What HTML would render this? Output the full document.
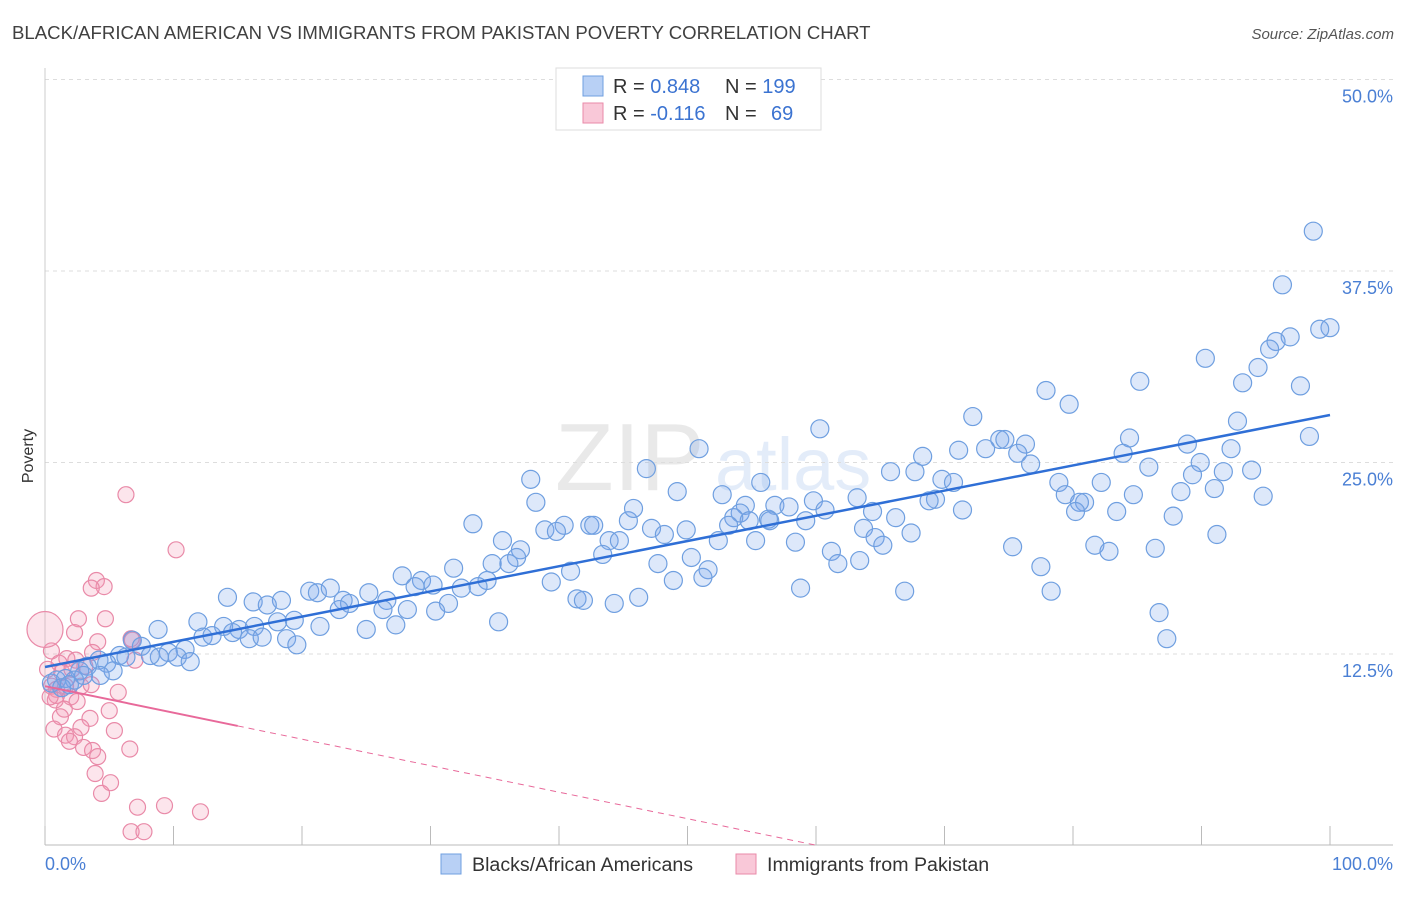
<!DOCTYPE html>
<html><head><meta charset="utf-8"><style>
body{margin:0;background:#fff;font-family:"Liberation Sans",sans-serif;}
svg text{font-family:"Liberation Sans",sans-serif;}
</style></head><body>
<svg id="chart" width="1406" height="892" xmlns="http://www.w3.org/2000/svg">
<text x="12" y="39" font-size="18.6" fill="#404040">BLACK/AFRICAN AMERICAN VS IMMIGRANTS FROM PAKISTAN POVERTY CORRELATION CHART</text>
<text x="1394" y="39" font-size="15" fill="#555" text-anchor="end" font-style="italic">Source: ZipAtlas.com</text>
<text transform="translate(33,456) rotate(-90)" font-size="16" fill="#333" text-anchor="middle">Poverty</text>
<g opacity="0.18">
<text x="555" y="490" font-size="96" font-family="Liberation Serif" fill="#888">ZIP</text>
<text x="715" y="490" font-size="74" fill="#6a9be0">atlas</text>
</g>
<g id="grid"></g><g id="axes"></g><g id="pinkPts"></g><g id="bluePts"></g><g id="trends"></g>
<g>
<rect x="556" y="68" width="265" height="62" fill="#fff" stroke="#ddd"/>
<rect x="583" y="76" width="20" height="20" fill="#b8d0f5" stroke="#6f9fe0"/>
<rect x="583" y="103" width="20" height="20" fill="#f9c8d8" stroke="#e98aa8"/>
<text x="613" y="93" font-size="20" fill="#333">R = <tspan fill="#3b73d1">0.848</tspan><tspan x="725">N = </tspan><tspan fill="#3b73d1">199</tspan></text>
<text x="613" y="120" font-size="20" fill="#333">R = <tspan fill="#3b73d1">-0.116</tspan><tspan x="725">N = </tspan><tspan x="771" fill="#3b73d1">69</tspan></text>
</g>
<g>
<rect x="441" y="854" width="20" height="20" fill="#b8d0f5" stroke="#6f9fe0"/>
<text x="472" y="871" font-size="19.6" fill="#333">Blacks/African Americans</text>
<rect x="736" y="854" width="20" height="20" fill="#f9c8d8" stroke="#e98aa8"/>
<text x="767" y="871" font-size="19.6" fill="#333">Immigrants from Pakistan</text>
</g>
</svg>
<script>
const yTicks=[12.5,25,37.5,50];
const yTickLabels=["12.5%","25.0%","37.5%","50.0%"];
const xTicks=[0,10,20,30,40,50,60,70,80,90,100];
const blueX=[98.7,96.3,100,99.2,96.9,95.8,95.3,90.3,94.4,85.2,93.2,97.7,77.9,79.7,72.2,92.8,60.3,84.4,98.4,74.3,74.7,76.3,88.9,50.9,71.1,75.7,68.3,92.3,83.9,73.2,89.9,76.7,46.8,85.9,65.8,67.7,93.9,89.3,91.7,69.8,37.8,55.7,70.7,49.2,78.9,82.2,88.4,79.4,91.0,84.7,63.2,52.7,69.3,68.8,54.5,56.8,57.9,59.8,94.8,80.9,80.5,83.4,71.4,80.2,38.2,60.7,64.4,45.4,45.8,33.3,40.4,42.4,42.7,54.1,53.6,56.3,54.8,56.4,59.2,66.2,53.2,63.7,67.4,47.2,49.9,38.9,39.8,48.2,87.8,35.6,43.9,44.7,55.3,52.4,64.6,58.4,65.2,91.2,81.7,75.3,82.8,86.4,37.0,36.7,43.4,61.2,50.3,63.4,61.7,34.8,36.1,47.7,40.9,51.6,31.8,77.5,27.8,51.2,48.9,29.3,34.4,39.4,30.2,28.8,32.4,20.6,33.7,21.2,22.2,58.8,66.9,25.2,78.3,14.2,16.2,18.4,46.2,23.2,23.7,41.4,31.4,26.6,44.3,41.9,17.3,26.3,28.2,30.4,22.9,11.9,18.1,16.3,21.4,15.1,19.4,35.3,27.3,25.0,86.7,13.9,8.8,12.3,14.6,13.0,15.9,16.9,18.8,19.6,87.3,6.8,7.5,5.8,9.6,10.9,10.3,8.9,8.2,11.3,4.2,6.3,4.8,3.3,5.3,2.7,4.3,0.9,1.6,2.3,0.5,1.3,3.0,1.9];
const blueY=[40.1,36.6,33.8,33.7,33.2,32.9,32.4,31.8,31.2,30.3,30.2,30.0,29.7,28.8,28.0,27.7,27.2,26.6,26.7,26.5,26.5,26.2,26.2,25.9,25.8,25.6,25.4,25.9,25.6,25.9,25.0,24.9,24.6,24.7,24.4,24.4,24.5,24.2,24.4,23.9,23.9,23.7,23.7,23.1,23.7,23.7,23.1,22.9,23.3,22.9,22.7,22.9,22.6,22.5,22.2,22.2,22.1,22.5,22.8,22.4,22.4,21.8,21.9,21.8,22.4,21.9,21.8,21.2,22.0,21.0,20.9,20.9,20.9,21.7,21.4,21.3,21.2,21.2,21.2,21.4,20.9,20.7,20.4,20.7,20.6,20.6,20.5,20.3,21.5,19.9,19.9,19.9,19.9,19.9,20.1,19.8,19.6,20.3,19.6,19.5,19.2,19.4,19.3,18.8,19.0,19.2,18.8,18.6,18.4,18.4,18.4,18.4,17.9,18.0,18.1,18.2,17.6,17.5,17.3,17.3,17.3,17.2,17.0,16.9,16.8,16.6,16.9,16.5,16.8,16.8,16.6,16.5,16.6,16.2,15.9,16.0,16.2,16.0,15.8,16.1,15.8,16.0,15.8,16.0,15.7,15.4,15.4,15.3,15.4,14.6,14.6,14.3,14.3,14.1,14.7,14.6,14.4,14.1,15.2,14.3,14.1,13.6,13.9,13.7,13.5,13.6,13.5,13.1,13.5,13.4,13.0,12.4,12.6,12.8,12.3,12.3,12.4,12.0,12.1,12.3,11.9,11.7,11.4,11.4,11.1,10.8,10.9,10.8,10.6,10.3,11.1,10.5];
const pinkX=[6.3,10.2,4.0,4.6,3.6,2.6,4.7,2.3,4.1,6.7,6.8,0.5,1.7,3.7,2.4,1.1,3.1,7.0,0.2,1.3,2.1,0.5,0.9,1.6,2.8,3.6,0.9,5.7,2.0,2.5,1.5,5.0,1.2,3.5,2.8,0.7,1.6,2.3,1.9,5.4,3.0,3.7,6.6,4.1,3.9,5.1,4.4,7.2,9.3,12.1,6.7,7.7,0.8,0.4,0];
const pinkY=[22.9,19.3,17.3,16.9,16.8,14.8,14.8,13.9,13.3,13.5,13.4,12.7,12.2,12.6,12.1,11.9,11.7,12.1,11.5,11.3,11.5,10.4,10.2,10.4,10.4,10.5,9.8,10.0,9.7,9.4,8.9,8.8,8.4,8.3,7.7,7.6,7.2,7.1,6.8,7.5,6.4,6.2,6.3,5.8,4.7,4.1,3.4,2.5,2.6,2.2,0.9,0.9,9.5,9.7,14.1];
const blueTrend=[11.65,28.1];
const pinkTrend=[10.4,-6.9];
const X0=45,X1=1330,Y0=845.5,YS=15.32;
const sx=v=>X0+(X1-X0)*v/100, sy=v=>Y0-v*YS;
const NS="http://www.w3.org/2000/svg";
function mk(tag,parent,attrs){const e=document.createElementNS(NS,tag);for(const k in attrs)e.setAttribute(k,attrs[k]);parent.appendChild(e);return e;}
const grid=document.getElementById('grid'),axes=document.getElementById('axes');
yTicks.forEach((t,i)=>{
 const l=mk('line',grid,{x1:45,x2:1393,y1:sy(t),y2:sy(t),stroke:'#ddd','stroke-dasharray':'4,4'});
 
 
 const tx=mk('text',axes,{x:1393,y:sy(t)+23,'font-size':18,fill:'#4a7fd4','text-anchor':'end'});
 tx.textContent=yTickLabels[i];
 
 
});
const ax=mk('line',axes,{x1:45,x2:1393,y1:845,y2:845,stroke:'#bbb'});


const ay=mk('line',axes,{x1:45,x2:45,y1:68,y2:845,stroke:'#ccc'});


xTicks.forEach(t=>{
 const l=mk('line',axes,{x1:sx(t),x2:sx(t),y1:845,y2:826,stroke:'#bbb'});
 
 
});
const xl0=mk('text',axes,{x:45,y:870,'font-size':18,fill:'#4a7fd4'});xl0.textContent='0.0%';


const xl1=mk('text',axes,{x:1393,y:870,'font-size':18,fill:'#4a7fd4','text-anchor':'end'});xl1.textContent='100.0%';


const pg=document.getElementById('pinkPts');
pinkX.forEach((x,i)=>{
 const c=mk('circle',pg,{cx:sx(x),cy:sy(pinkY[i]),r:i==pinkX.length-1?18:8,fill:'rgba(244,150,180,0.25)',stroke:'#e98aa8','stroke-width':1.2});
 
 
});
const bg=document.getElementById('bluePts');
blueX.forEach((x,i)=>{
 const c=mk('circle',bg,{cx:sx(x),cy:sy(blueY[i]),r:9,fill:'rgba(120,165,235,0.25)',stroke:'#6f9fe0','stroke-width':1.2});
 
 
});
const tg=document.getElementById('trends');
const bt=mk('line',tg,{x1:sx(0),y1:sy(blueTrend[0]),x2:sx(100),y2:sy(blueTrend[1]),stroke:'#2f6fd6','stroke-width':2.5});


const pAt=x=>pinkTrend[0]+(pinkTrend[1]-pinkTrend[0])*x/100;
const pt=mk('line',tg,{x1:sx(0),y1:sy(pAt(0)),x2:sx(15),y2:sy(pAt(15)),stroke:'#e8699a','stroke-width':2});


const pd=mk('line',tg,{x1:sx(15),y1:sy(pAt(15)),x2:sx(60),y2:sy(pAt(60)),stroke:'#e8699a','stroke-width':1,'stroke-dasharray':'6,5'});


</script>
</body></html>
